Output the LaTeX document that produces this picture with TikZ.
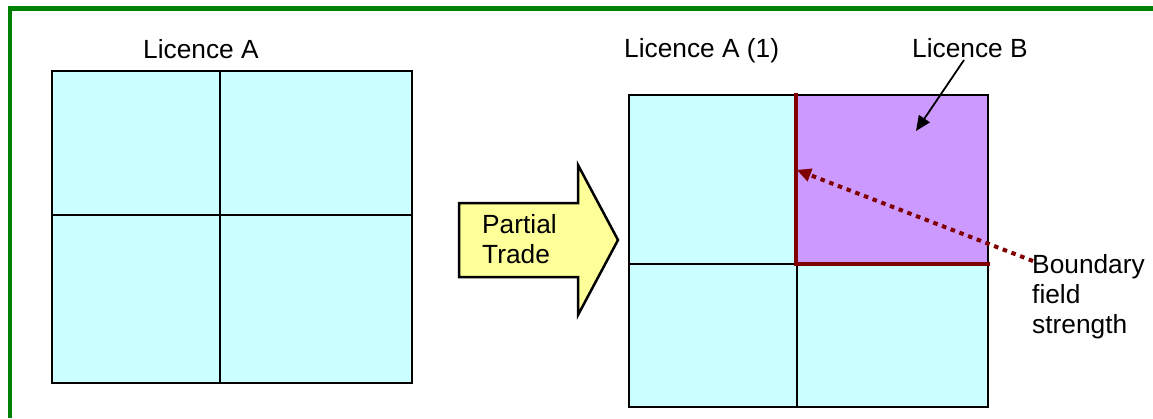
\documentclass[tikz,border=0pt]{standalone}
\usepackage{fontspec}
\setmainfont{Liberation Sans}
\usetikzlibrary{arrows.meta}
\definecolor{frame}{HTML}{008000}
\definecolor{cellc}{HTML}{CCFFFF}
\definecolor{cellb}{HTML}{CC99FF}
\definecolor{tradey}{HTML}{FFFF99}
\definecolor{bound}{HTML}{800000}
\begin{document}
\begin{tikzpicture}[x=1pt,y=-1pt,
  lbl/.style={font=\fontsize{26.3}{30}\selectfont, inner sep=0pt, anchor=base west, align=left},
  cell/.style={draw=black, line width=2.5pt, inner sep=0pt, outer sep=0pt, anchor=north west},
  cyancell/.style={cell, fill=cellc},
  purplecell/.style={cell, fill=cellb},
  pointer/.style={line width=1.8pt, -{Triangle[length=15pt,width=13pt]}},
  boundline/.style={draw=bound, line width=4.5pt},
  dotted arrow/.style={draw=bound, line width=4pt, dash pattern=on 4.5pt off 4.8pt,
    -{Triangle[length=14pt,width=14pt,line width=0pt]}}]
  \useasboundingbox (0,0) rectangle (1153,418);
  % outer frame (top and left edges)
  \draw[frame, line width=4.5pt] (10,418) -- (10,8.5) -- (1153,8.5);

  % original licence, four cells
  \node[cyancell, minimum width=168pt, minimum height=144pt] (a11) at (52,71) {};
  \node[cyancell, minimum width=192pt, minimum height=144pt] (a12) at (220,71) {};
  \node[cyancell, minimum width=168pt, minimum height=168pt] (a21) at (52,215) {};
  \node[cyancell, minimum width=192pt, minimum height=168pt] (a22) at (220,215) {};
  \node[lbl] (la) at (143,58) {Licence A};

  % trade arrow
  \draw[line width=2.5pt, fill=tradey, line join=miter]
    (459,203) -- (578,203) -- (578,165) -- (618,240) -- (578,315) -- (578,277) -- (459,277) -- cycle;
  \node[lbl] (trade) at (482,263) {Partial\\Trade};

  % after the partial trade
  \node[cyancell, minimum width=167pt, minimum height=169pt] (b11) at (629,95) {};
  \node[cyancell, minimum width=168pt, minimum height=143pt] (b21) at (629,264) {};
  \node[purplecell, minimum width=192pt, minimum height=169pt] (b12) at (796,95) {};
  \node[cyancell, minimum width=191pt, minimum height=143pt] (b22) at (797,264) {};
  \draw[boundline, line cap=rect] (b12.north west) -- (b12.south west) -- (b12.south east);

  \node[lbl] (la1) at (624,57) {Licence A (1)};
  \node[lbl] (lb) at (912,57) {Licence B};
  \node[lbl] (bfs) at (1032,333) {Boundary\\field\\strength};

  \coordinate (lbfrom) at (964,60);
  \coordinate (lbto) at (916,131);
  \draw[pointer] (lbfrom) -- (lbto);

  \coordinate (bfrom) at (1033,261);
  \coordinate (bto) at (797,170);
  \draw[dotted arrow] (bfrom) -- (bto);
\end{tikzpicture}
\end{document}
